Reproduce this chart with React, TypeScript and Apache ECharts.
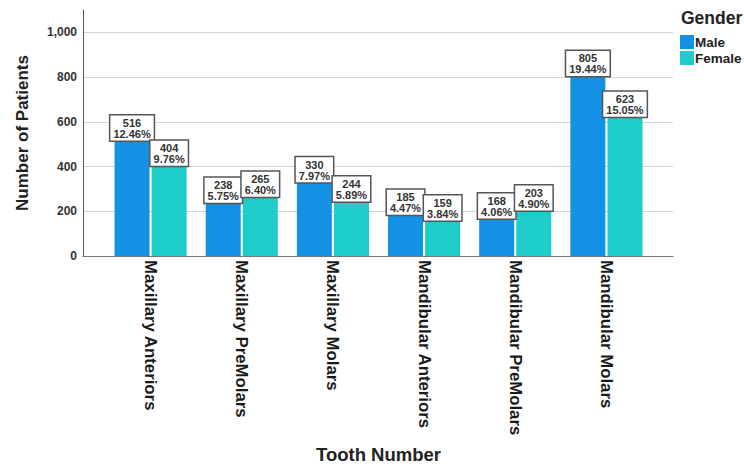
import React, { useEffect, useRef } from "react";
import * as echarts from "echarts";

const categories = [
  "Maxillary Anteriors",
  "Maxillary PreMolars",
  "Maxillary Molars",
  "Mandibular Anteriors",
  "Mandibular PreMolars",
  "Mandibular Molars",
];
const maleValues = [516, 238, 330, 185, 168, 805];
const femaleValues = [404, 265, 244, 159, 203, 623];
const malePct = ["12.46%", "5.75%", "7.97%", "4.47%", "4.06%", "19.44%"];
const femalePct = ["9.76%", "6.40%", "5.89%", "3.84%", "4.90%", "15.05%"];
const seriesNames = ["Male", "Female"];

const FONT = "Liberation Sans, Arial, sans-serif";

export default function App() {
  const ref = useRef<HTMLDivElement>(null);
  useEffect(() => {
    if (!ref.current) return;
    const chart = echarts.init(ref.current, null, { renderer: "svg" });
    const labelCfg = (pcts: string[]) => ({
      show: true,
      position: "top",
      distance: 0,
      formatter: (p: any) => `${p.value}\n${pcts[p.dataIndex]}`,
      fontFamily: FONT,
      fontSize: 11,
      fontWeight: "bold",
      lineHeight: 11,
      color: "#333",
      backgroundColor: "#fff",
      borderColor: "#555",
      borderWidth: 1.5,
      padding: [2, 3, 1, 3],
      align: "center",
    });
    chart.setOption({
      animation: false,
      textStyle: { fontFamily: FONT },
      title: {
        text: "Gender",
        left: 681,
        top: 9,
        textStyle: { fontFamily: FONT, fontSize: 17.5, fontWeight: "bold", color: "#222" },
        padding: 0,
      },
      legend: {
        data: seriesNames,
        orient: "vertical",
        left: 680,
        top: 35,
        itemWidth: 14,
        itemHeight: 14,
        itemGap: 2,
        padding: 0,
        icon: "rect",
        textStyle: { fontFamily: FONT, fontSize: 13.5, fontWeight: "bold", color: "#222", padding: [0, 0, 0, -4] },
      },
      grid: [
        { left: 83, right: 71, top: 10, bottom: 210, containLabel: false, outerBoundsMode: "none" },
        { left: 105, right: 92, top: 10, bottom: 210, containLabel: false, outerBoundsMode: "none" },
      ],
      xAxis: [
        {
          type: "value",
          gridIndex: 0,
          min: 0,
          max: 1,
          axisLine: { show: true, lineStyle: { color: "#777", width: 1 } },
          axisTick: { show: false },
          axisLabel: { show: false },
          splitLine: { show: false },
        },
        {
          type: "category",
          gridIndex: 1,
          data: categories,
          axisLine: { show: false },
          axisTick: { show: false },
          axisLabel: {
            rotate: -90,
            margin: 4,
            fontFamily: FONT,
            fontSize: 16.8,
            fontWeight: 700,
            color: "#1a1a1a",
          },
          name: "Tooth Number",
          nameLocation: "middle",
          nameGap: 189,
          nameTextStyle: { fontFamily: FONT, fontSize: 18.5, fontWeight: 700, color: "#222" },
        },
      ],
      yAxis: [
        {
          type: "value",
          gridIndex: 0,
          min: 0,
          max: 1100,
          interval: 200,
          axisLine: { show: true, lineStyle: { color: "#555", width: 1 } },
          axisTick: { show: false },
          axisLabel: {
            showMaxLabel: false,
            margin: 6,
            fontFamily: FONT,
            fontSize: 12,
            fontWeight: 700,
            color: "#333",
            formatter: (v: number) => v.toLocaleString("en-US"),
          },
          splitLine: {
            show: true,
            showMinLine: false,
            showMaxLine: false,
            lineStyle: { color: "#d4d4d4", width: 1 },
          },
          name: "Number of Patients",
          nameLocation: "middle",
          nameGap: 52,
          nameTextStyle: { fontFamily: FONT, fontSize: 17, fontWeight: 700, color: "#222" },
        },
        {
          type: "value",
          gridIndex: 1,
          min: 0,
          max: 1100,
          show: false,
          splitLine: { show: false },
        },
      ],
      series: [
        {
          type: "scatter",
          xAxisIndex: 0,
          yAxisIndex: 0,
          data: [],
          silent: true,
        },
        {
          name: "Male",
          type: "bar",
          xAxisIndex: 1,
          yAxisIndex: 1,
          data: maleValues,
          barWidth: 35,
          barGap: "6%",
          itemStyle: { color: "#1490e4" },
          label: labelCfg(malePct),
        },
        {
          name: "Female",
          type: "bar",
          xAxisIndex: 1,
          yAxisIndex: 1,
          data: femaleValues,
          barWidth: 35,
          barGap: "6%",
          itemStyle: { color: "#1ecdca" },
          label: labelCfg(femalePct),
        },
      ],
    });
    return () => chart.dispose();
  }, []);
  return <div ref={ref} style={{ width: 744, height: 466, position: "absolute", left: 0, top: 0 }} />;
}
